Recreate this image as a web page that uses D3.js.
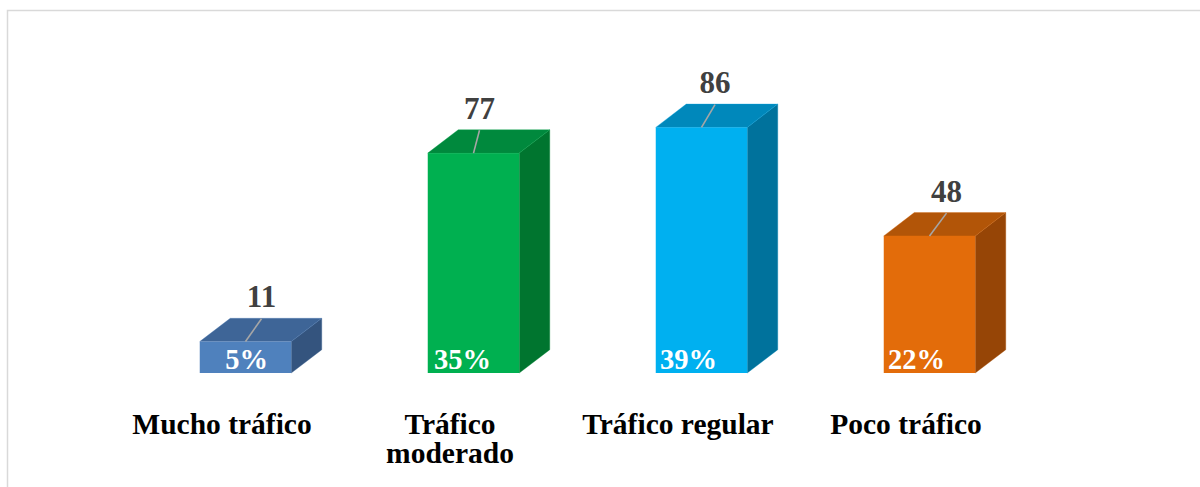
<!DOCTYPE html>
<html>
<head>
<meta charset="utf-8">
<script src="https://cdn.jsdelivr.net/npm/d3@7"></script>
<style>
  html, body { margin: 0; padding: 0; background: #ffffff; }
  svg { display: block; }
</style>
</head>
<body>
<svg id="chart" width="1200" height="487"></svg>
<script>
// ---- data ----
const categories = ["Mucho tráfico", "Tráfico moderado", "Tráfico regular", "Poco tráfico"];
const counts = [11, 77, 86, 48];
const percents = [5, 35, 39, 22];
const categoryLines = [["Mucho tráfico"], ["Tráfico", "moderado"], ["Tráfico regular"], ["Poco tráfico"]];

// ---- styles / layout (not data) ----
const frontColors = ["#4F81BD", "#00B050", "#00B0F0", "#E36C0A"];
const topColors   = ["#3E6597", "#00893D", "#0088BB", "#B25508"];
const sideColors  = ["#34547E", "#00752F", "#00729C", "#964506"];
const valueLabelNudge = [16, 6, 13.5, 17];
const pctLabelNudge = [1, -11, -13, -13];

const W = 1200, H = 487;
const depthX = 30.5, depthY = 23.3;
const svg = d3.select("#chart");

svg.append("rect").attr("x", 0).attr("y", 0).attr("width", W).attr("height", H).attr("fill", "#fff");
// chart area border (left and top visible)
svg.append("rect")
  .attr("x", 7.5).attr("y", 10.5).attr("width", 1300).attr("height", 600)
  .attr("fill", "none").attr("stroke", "#D9D9D9").attr("stroke-width", 1.5);

const x = d3.scaleBand()
  .domain(categories)
  .range([131.5, 131.5 + 4 * 228])
  .paddingInner(1 - 91.5 / 228)
  .paddingOuter((1 - 91.5 / 228) / 2);

const y = d3.scaleLinear().domain([0, 100]).range([373, 87.4]);

const data = categories.map((c, i) => ({ c, i, v: counts[i], p: percents[i] }));

const g = svg.append("g");
const bars = g.selectAll("g.bar").data(data).join("g").attr("class", "bar");

bars.each(function(d) {
  const sel = d3.select(this);
  const xl = x(d.c), xr = x(d.c) + x.bandwidth();
  const yt = y(d.v), yb = y(0);
  // side face
  sel.append("path")
    .attr("d", `M${xr},${yt}L${xr + depthX},${yt - depthY}L${xr + depthX},${yb - depthY}L${xr},${yb}Z`)
    .attr("fill", sideColors[d.i])
    .attr("stroke", d3.color(sideColors[d.i]).brighter(0.4)).attr("stroke-width", 0.6).attr("stroke-opacity", 0.6);
  // top face
  sel.append("path")
    .attr("d", `M${xl},${yt}L${xl + depthX},${yt - depthY}L${xr + depthX},${yt - depthY}L${xr},${yt}Z`)
    .attr("fill", topColors[d.i])
    .attr("stroke", d3.color(topColors[d.i]).brighter(0.5)).attr("stroke-width", 0.6).attr("stroke-opacity", 0.6);
  // front face
  sel.append("rect")
    .attr("x", xl).attr("y", yt).attr("width", x.bandwidth()).attr("height", yb - yt)
    .attr("fill", frontColors[d.i]);

  const cx = xl + x.bandwidth() / 2;
  const lx = cx + valueLabelNudge[d.i];
  // leader line
  sel.append("line")
    .attr("x1", cx).attr("y1", yt)
    .attr("x2", lx).attr("y2", yt - depthY + 0.5)
    .attr("stroke", "#A6A6A6").attr("stroke-width", 1.6);
  // value label
  sel.append("text")
    .attr("x", lx).attr("y", yt - depthY - 11)
    .attr("text-anchor", "middle")
    .attr("font-family", "'Liberation Serif', 'Times New Roman', serif")
    .attr("font-weight", "bold").attr("font-size", 31)
    .attr("fill", "#404040")
    .text(d.v);
  // percent label
  sel.append("text")
    .attr("x", cx + pctLabelNudge[d.i]).attr("y", yb - 4.5)
    .attr("text-anchor", "middle")
    .attr("font-family", "'Liberation Serif', 'Times New Roman', serif")
    .attr("font-weight", "bold").attr("font-size", 28.5)
    .attr("fill", "#ffffff")
    .text(d.p + "%");
});

// category labels
const cat = g.selectAll("text.cat").data(data).join("text")
  .attr("class", "cat")
  .attr("text-anchor", "middle")
  .attr("font-family", "'Liberation Serif', 'Times New Roman', serif")
  .attr("font-weight", "bold").attr("font-size", 29.5)
  .attr("fill", "#000");
cat.each(function(d) {
  const t = d3.select(this);
  const cx = x(d.c) + x.bandwidth() / 2 - 23.5;
  categoryLines[d.i].forEach((line, k) => {
    t.append("tspan").attr("x", cx).attr("y", 433.5 + k * 29).text(line);
  });
});
</script>
</body>
</html>
